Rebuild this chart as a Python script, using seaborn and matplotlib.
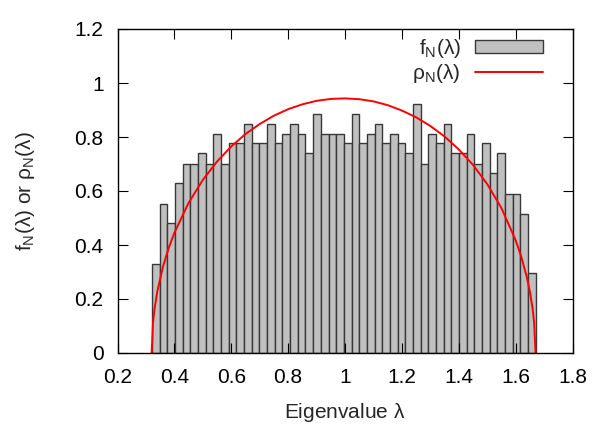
import numpy as np
import pandas as pd
import seaborn as sns
import matplotlib
matplotlib.use("Agg")
import matplotlib.pyplot as plt
from matplotlib.ticker import FormatStrFormatter

# histogram of eigenvalues (50 bins)
bin_lo = 0.321
bin_width = 0.027
f_heights = [0.331, 0.553, 0.480, 0.628, 0.701, 0.701, 0.739, 0.701, 0.812, 0.701,
             0.776, 0.776, 0.849, 0.776, 0.776, 0.849, 0.776, 0.812, 0.849, 0.812,
             0.739, 0.886, 0.812, 0.812, 0.812, 0.776, 0.886, 0.776, 0.812, 0.849,
             0.776, 0.812, 0.776, 0.739, 0.922, 0.701, 0.812, 0.776, 0.849, 0.739,
             0.739, 0.812, 0.701, 0.776, 0.665, 0.739, 0.590, 0.590, 0.516, 0.295]

# theoretical density curve
rho_lam = [0.320, 0.325, 0.330, 0.340, 0.360, 0.380, 0.400, 0.450, 0.500, 0.550,
           0.600, 0.650, 0.700, 0.750, 0.800, 0.850, 0.900, 0.950, 1.000, 1.050,
           1.100, 1.150, 1.200, 1.250, 1.300, 1.350, 1.400, 1.450, 1.500, 1.550,
           1.600, 1.620, 1.640, 1.650, 1.660, 1.665, 1.670]
rho_val = [0.000, 0.114, 0.162, 0.228, 0.320, 0.389, 0.445, 0.556, 0.641, 0.709,
           0.765, 0.811, 0.848, 0.879, 0.903, 0.921, 0.934, 0.941, 0.943, 0.940,
           0.932, 0.918, 0.898, 0.873, 0.841, 0.802, 0.754, 0.697, 0.626, 0.537,
           0.418, 0.356, 0.278, 0.228, 0.162, 0.114, 0.000]

sns.set_theme(style="ticks")
plt.rcParams['font.family'] = ['Liberation Sans', 'DejaVu Sans']
plt.rcParams['mathtext.fontset'] = 'custom'
plt.rcParams['mathtext.rm'] = 'Liberation Sans'
plt.rcParams['mathtext.it'] = 'Liberation Sans'
plt.rcParams['mathtext.default'] = 'rm'

fs = 15
fig = plt.figure(figsize=(6.15, 4.3), dpi=100)
ax = fig.add_axes([117.5/615, 1-353/430, (572.5-117.5)/615, (353-29)/430])

edges = bin_lo + bin_width*np.arange(len(f_heights)+1)
hist_df = pd.DataFrame({"lam": (edges[:-1] + edges[1:])/2, "f": f_heights})
sns.histplot(data=hist_df, x="lam", weights="f", bins=list(edges), stat="count",
             color="#c0c0c0", edgecolor="#383838", linewidth=1.0, alpha=1,
             label=r"$f_N(\lambda)$", ax=ax)
sns.lineplot(x=rho_lam, y=rho_val, color="red", linewidth=1.4,
             label=r"$\rho_N(\lambda)$", ax=ax)

ax.set_xlim(0.2, 1.8)
ax.set_ylim(0, 1.2)
ax.set_xticks(np.arange(0.2, 1.81, 0.2))
ax.set_yticks(np.arange(0, 1.21, 0.2))
ax.xaxis.set_major_formatter(FormatStrFormatter('%g'))
ax.yaxis.set_major_formatter(FormatStrFormatter('%g'))
ax.tick_params(direction="in", length=7.5, width=0.8, top=True, right=True,
               labelsize=fs, colors="black")
ax.tick_params(axis="x", pad=11)
ax.tick_params(axis="y", pad=10)
for s in ax.spines.values():
    s.set_linewidth(1.0)
    s.set_color("black")
ax.set_axisbelow(False)

ax.set_xlabel(r"Eigenvalue $\lambda$", fontsize=fs, labelpad=10)
ax.set_ylabel(r"$f_N(\lambda)$ or $\rho_N(\lambda)$", fontsize=fs, labelpad=27)

# legend: histogram first, then the curve
handles, labels = ax.get_legend_handles_labels()
order = [labels.index(r"$f_N(\lambda)$"), labels.index(r"$\rho_N(\lambda)$")]
ax.legend([handles[i] for i in order], [labels[i] for i in order],
          loc="upper right", bbox_to_anchor=(0.936, 0.975), frameon=False,
          markerfirst=False, fontsize=fs, handlelength=3.27, handleheight=0.58,
          handletextpad=0.7, labelspacing=0.1, borderaxespad=0, borderpad=0)

fig.savefig("out.png", dpi=100)
